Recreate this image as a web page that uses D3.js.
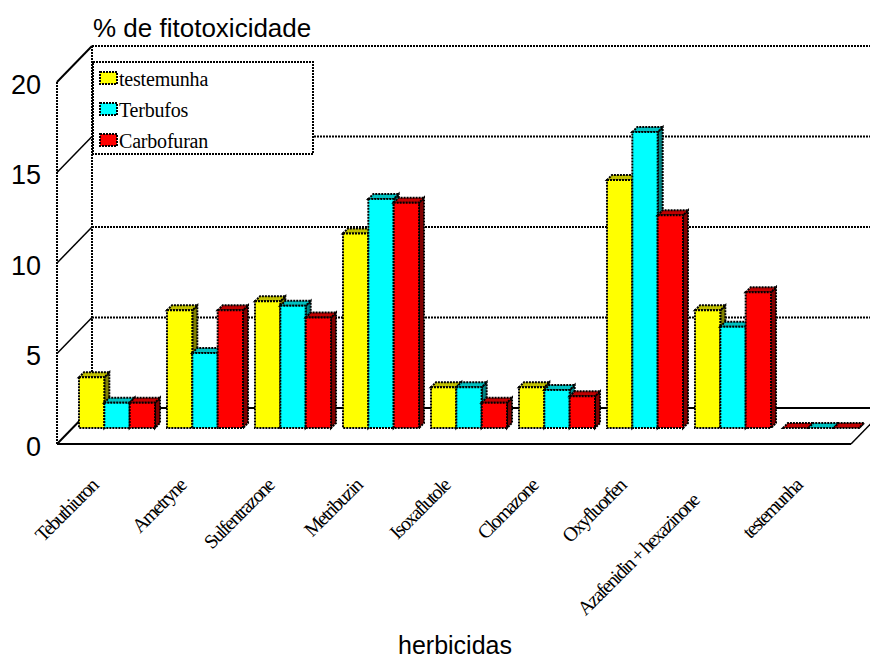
<!DOCTYPE html>
<html>
<head>
<meta charset="utf-8">
<script src="https://cdn.jsdelivr.net/npm/d3@7"></script>
<style>
  html, body { margin: 0; padding: 0; background: #fff; }
  svg { display: block; }
</style>
</head>
<body>
<div id="chart"></div>
<script>
// 1. DATA
const herbicides = ["Tebuthiuron", "Ametryne", "Sulfentrazone", "Metribuzin", "Isoxaflutole", "Clomazone", "Oxyfluorfen", "Azafenidin + hexazinone", "testemunha"]
const seriesNames = ["testemunha", "Terbufos", "Carbofuran"]
const testemunhaValues = [2.8, 6.5, 7, 10.75, 2.25, 2.25, 13.7, 6.5, 0]
const terbufosValues = [1.4, 4.15, 6.75, 12.65, 2.25, 2.1, 16.35, 5.6, 0]
const carbofuranValues = [1.4, 6.5, 6.1, 12.45, 1.4, 1.75, 11.75, 7.5, 0]
const yTicks = [0, 5, 10, 15, 20]

const seriesValues = [testemunhaValues, terbufosValues, carbofuranValues]
const faceColors = ["#ffff00", "#00ffff", "#ff0000"]
const topColors = ["#c0c000", "#00c0c0", "#c00000"]
const sideColors = ["#808000", "#008080", "#800000"]

// 2. DIMENSIONS
const width = 870
const height = 660
const wallDx = 35
const wallDy = 36
const barDepth = 5
const dots = "2 1"

// 3. CANVAS
const svg = d3.select("#chart").append("svg")
    .attr("width", width)
    .attr("height", height)

// 4. SCALES
const yFront = d3.scaleLinear().domain([0, 20]).range([444, 82])
const yBar = d3.scaleLinear().domain([0, 20]).range([428, 66])
const xGroup = d3.scaleBand().domain(herbicides).range([73, 865]).paddingInner(0.136).paddingOuter(0.068)
const xBar = d3.scaleBand().domain(seriesNames).range([0, xGroup.bandwidth()])

// 5. WALLS AND GRID
const walls = svg.append("g").attr("fill", "none").attr("stroke", "#000")

yTicks.forEach(t => {
    const y = yFront(t)
    walls.append("line")
        .attr("x1", 57).attr("y1", y)
        .attr("x2", 57 + wallDx).attr("y2", y - wallDy)
        .attr("stroke-width", t === 15 || t === 5 || t === 10 ? 1.5 : 2)
    walls.append("line")
        .attr("x1", 92).attr("y1", y - wallDy)
        .attr("x2", width).attr("y2", y - wallDy)
        .attr("stroke-width", 2)
        .attr("stroke-dasharray", t === 0 ? null : dots)
})

walls.append("line")
    .attr("x1", 57).attr("y1", yFront(0))
    .attr("x2", 57).attr("y2", yFront(20))
    .attr("stroke-width", 2).attr("stroke-dasharray", dots)
walls.append("line")
    .attr("x1", 92).attr("y1", yFront(0) - wallDy)
    .attr("x2", 92).attr("y2", yFront(20) - wallDy)
    .attr("stroke-width", 2).attr("stroke-dasharray", dots)
walls.append("line")
    .attr("x1", 57).attr("y1", yFront(0))
    .attr("x2", 851).attr("y2", yFront(0))
    .attr("stroke-width", 2)
walls.append("line")
    .attr("x1", 851).attr("y1", yFront(0))
    .attr("x2", 851 + wallDx).attr("y2", yFront(0) - wallDy)
    .attr("stroke-width", 1.5)

// 6. BARS
const barLine = (g, color) => g
    .attr("fill", color)
    .attr("stroke", "#000")
    .attr("stroke-width", 2)
    .attr("stroke-dasharray", dots)

herbicides.forEach((name, i) => {
    const group = svg.append("g")
        .attr("transform", `translate(${xGroup(name)},0)`)
    seriesNames.forEach((s, k) => {
        const value = seriesValues[k][i]
        const x0 = xBar(s)
        const x1 = x0 + xBar.bandwidth()
        const top = yBar(value)
        const bottom = yBar(0)
        // the empty group shows red on its first top in the original
        const topColor = value === 0 && k === 0 ? topColors[2] : topColors[k]
        group.append("path")
            .attr("d", `M${x1},${top}L${x1 + barDepth},${top - barDepth}L${x1 + barDepth},${bottom - barDepth}L${x1},${bottom}Z`)
            .call(barLine, sideColors[k])
        group.append("path")
            .attr("d", `M${x0},${top}L${x0 + barDepth},${top - barDepth}L${x1 + barDepth},${top - barDepth}L${x1},${top}Z`)
            .call(barLine, topColor)
        group.append("rect")
            .attr("x", x0)
            .attr("y", top)
            .attr("width", xBar.bandwidth())
            .attr("height", bottom - top)
            .call(barLine, faceColors[k])
    })
})

// 7. AXES AND TEXT
const yAxis = svg.append("g")
    .attr("transform", "translate(57,2.5)")
    .call(d3.axisLeft(yFront).tickValues(yTicks).tickSize(0).tickPadding(16))
yAxis.select(".domain").remove()
yAxis.selectAll("text")
    .attr("fill", "#000")
    .style("font-family", "'Liberation Sans', Arial, sans-serif")
    .style("font-size", "27px")

svg.append("text")
    .attr("x", 93).attr("y", 37)
    .style("font-family", "'Liberation Sans', Arial, sans-serif")
    .style("font-size", "26px")
    .text("% de fitotoxicidade")

svg.append("text")
    .attr("x", 455).attr("y", 654)
    .attr("text-anchor", "middle")
    .style("font-family", "'Liberation Sans', Arial, sans-serif")
    .style("font-size", "25px")
    .text("herbicidas")

// the long label sits lower along its diagonal
const labelShift = d => d.length > 15 ? 15 : 0

svg.append("g").selectAll("text")
    .data(herbicides).join("text")
    .attr("transform", d => `translate(${xGroup(d) + xGroup.bandwidth() / 2 - 18 - labelShift(d)},${487 + labelShift(d)}) rotate(-45)`)
    .attr("text-anchor", "end")
    .style("font-family", "'Liberation Serif', 'Times New Roman', serif")
    .style("font-size", "20px")
    .style("letter-spacing", "-1.7px")
    .text(d => d)

// 8. LEGEND
const legend = svg.append("g")
legend.append("rect")
    .attr("x", 93).attr("y", 62)
    .attr("width", 220).attr("height", 92)
    .attr("fill", "#fff")
    .attr("stroke", "#000")
    .attr("stroke-width", 2)
    .attr("stroke-dasharray", dots)

const legendRows = legend.selectAll("g")
    .data(seriesNames).join("g")
    .attr("transform", (d, i) => `translate(100,${72 + i * 31})`)
legendRows.append("rect")
    .attr("width", 17).attr("height", 12)
    .attr("fill", (d, i) => faceColors[i])
    .attr("stroke", "#000")
    .attr("stroke-width", 2)
    .attr("stroke-dasharray", dots)
legendRows.append("text")
    .attr("x", 19).attr("y", 14)
    .style("font-family", "'Liberation Serif', 'Times New Roman', serif")
    .style("font-size", "20px")
    .style("letter-spacing", "-0.2px")
    .text(d => d)
</script>
</body>
</html>
